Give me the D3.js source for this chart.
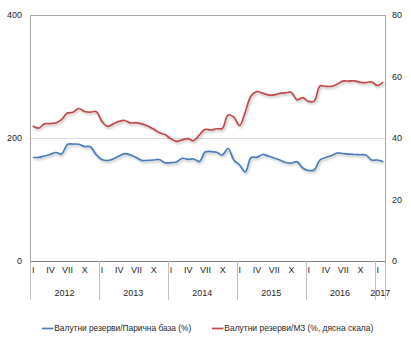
<!DOCTYPE html>
<html>
<head>
<meta charset="utf-8">
<script src="https://cdn.jsdelivr.net/npm/d3@7"></script>
<style>
  html, body { margin: 0; padding: 0; background: #fff; }
  svg { display: block; font-family: "Liberation Sans", Arial, sans-serif; }
</style>
</head>
<body>
<svg id="chart" width="411" height="341"></svg>
<script>
// Years shown on the axis and how many months of each are covered
const years = [2012, 2013, 2014, 2015, 2016, 2017];
const monthsPerYear = [12, 12, 12, 12, 12, 2];
const monthNames = ["I", "II", "III", "IV", "V", "VI", "VII", "VIII", "IX", "X", "XI", "XII"];

// Foreign reserves / monetary base (%), left scale
const reservesToBase = [
  168.3, 168.6, 170.7, 173.2, 176.4, 174.0, 189.4, 190.2, 189.8, 186.2, 185.9, 173.2,
  165.0, 163.4, 165.9, 170.7, 174.6, 172.4, 168.3, 163.4, 163.7, 164.2, 165.0, 159.8,
  159.8, 161.0, 167.0, 165.4, 165.9, 161.8, 177.2, 178.0, 176.9, 172.4, 182.9, 164.2,
  156.1, 144.7, 168.3, 168.6, 173.2, 170.7, 167.5, 164.2, 160.2, 159.3, 161.5, 151.2,
  147.2, 148.0, 164.2, 168.3, 171.5, 175.6, 174.8, 173.7, 173.2, 172.8, 172.4, 164.2,
  164.2, 161.5
];

// Foreign reserves / M3 (%), right scale
const reservesToM3 = [
  43.9, 43.2, 44.6, 44.7, 44.9, 46.0, 48.1, 48.4, 49.6, 48.6, 48.4, 48.6,
  45.5, 43.8, 44.6, 45.4, 45.7, 44.9, 45.0, 44.6, 43.9, 42.9, 41.8, 41.1,
  39.8, 38.9, 39.4, 39.8, 39.1, 41.0, 42.8, 42.6, 43.0, 43.1, 47.5, 46.8,
  44.0, 48.5, 53.7, 55.1, 54.6, 54.0, 54.0, 54.5, 54.7, 54.8, 52.4, 53.1,
  51.9, 52.0, 56.9, 56.8, 56.8, 57.5, 58.5, 58.5, 58.6, 58.1, 58.0, 58.2,
  57.1, 58.2
];

const leftTicks = [0, 200, 400];
const rightTicks = [0, 20, 40, 60, 80];
const legendLabels = ["Валутни резерви/Парична база (%)", "Валутни резерви/М3 (%, дясна скала)"];
const colors = ["#4a7ebb", "#be4b48"];

// Month list built from the year table
const months = [];
years.forEach((y, yi) => {
  for (let m = 0; m < monthsPerYear[yi]; m++) months.push({ year: y, m: m, key: y + "-" + m });
});

const svg = d3.select("#chart");
const W = 411;
const x0 = 30, x1 = 386;
const y0 = 261, yTop = 15;

const x = d3.scaleBand().domain(months.map(d => d.key)).range([x0, x1]).padding(0);
const yL = d3.scaleLinear().domain([0, 400]).range([y0, yTop]);
const yR = d3.scaleLinear().domain([0, 80]).range([y0, yTop]);
const cx = i => x(months[i].key) + x.bandwidth() / 2;

const defs = svg.append("defs");
const f = defs.append("filter").attr("id", "shadow").attr("x", "-5%").attr("y", "-20%").attr("width", "110%").attr("height", "160%");
f.append("feDropShadow").attr("dx", 1).attr("dy", 1.6).attr("stdDeviation", 0.9)
  .attr("flood-color", "#000").attr("flood-opacity", 0.28);

// gridline at 200
svg.append("g").selectAll("line").data(leftTicks.filter(t => t > 0 && t < 400)).join("line")
  .attr("x1", x0).attr("x2", x1)
  .attr("y1", d => Math.round(yL(d)) + 0.5).attr("y2", d => Math.round(yL(d)) + 0.5)
  .attr("stroke", "#d9d9d9").attr("stroke-width", 1);

// frame: left, top, right
svg.append("path").attr("d", `M${x0 + 0.5},${y0}V${yTop + 0.5}H${x1 - 0.5}V${y0}`)
  .attr("stroke", "#a6a6a6").attr("stroke-width", 1).attr("fill", "none");

// left axis labels
svg.append("g").selectAll("text").data(leftTicks).join("text")
  .attr("x", 22).attr("y", d => yL(d)).attr("dy", "0.35em")
  .attr("text-anchor", "end").attr("font-size", 9).attr("fill", "#262626")
  .text(d => d);

// right axis labels
svg.append("g").selectAll("text").data(rightTicks).join("text")
  .attr("x", 392).attr("y", d => yR(d)).attr("dy", "0.35em")
  .attr("text-anchor", "start").attr("font-size", 9).attr("fill", "#262626")
  .text(d => d);

// smoothed series lines
const lineL = d3.line().x((d, i) => cx(i)).y(d => yL(d)).curve(d3.curveCatmullRom.alpha(0.5));
const lineR = d3.line().x((d, i) => cx(i)).y(d => yR(d)).curve(d3.curveCatmullRom.alpha(0.5));

svg.append("path").datum(reservesToM3).attr("d", lineR)
  .attr("fill", "none").attr("stroke", colors[1]).attr("stroke-width", 1.7).attr("filter", "url(#shadow)");
svg.append("path").datum(reservesToBase).attr("d", lineL)
  .attr("fill", "none").attr("stroke", colors[0]).attr("stroke-width", 1.7).attr("filter", "url(#shadow)");

// category axis
const ax = svg.append("g");
ax.append("line").attr("x1", x0).attr("x2", x1).attr("y1", y0 + 0.5).attr("y2", y0 + 0.5)
  .attr("stroke", "#7f7f7f").attr("stroke-width", 1);

// year separators
let acc = 0;
const bounds = [0];
monthsPerYear.forEach(n => { acc += n; bounds.push(acc); });
ax.selectAll("line.sep").data(bounds).join("line").attr("class", "sep")
  .attr("x1", i => i < months.length ? Math.round(x(months[i].key)) + 0.5 : x1 - 0.5)
  .attr("x2", i => i < months.length ? Math.round(x(months[i].key)) + 0.5 : x1 - 0.5)
  .attr("y1", y0).attr("y2", 300)
  .attr("stroke", "#bfbfbf").attr("stroke-width", 1);

// month labels
ax.selectAll("text.mon").data(months.filter(d => d.m % 3 === 0)).join("text").attr("class", "mon")
  .attr("x", d => x(d.key) + x.bandwidth() / 2 + 0.3).attr("y", 273)
  .attr("text-anchor", "middle").attr("font-size", 9).attr("fill", "#262626")
  .text(d => monthNames[d.m]);

// year labels
ax.selectAll("text.yr").data(years).join("text").attr("class", "yr")
  .attr("x", (d, i) => {
    const a = x(months[bounds[i]].key);
    const b = bounds[i + 1] < months.length ? x(months[bounds[i + 1]].key) : x1;
    return (a + b) / 2;
  })
  .attr("y", 296).attr("text-anchor", "middle").attr("font-size", 9).attr("fill", "#262626")
  .text(d => d);

// legend
const lg = svg.append("g");
const lgX = [42, 212];
const lgW = [137, 149];
legendLabels.forEach((t, i) => {
  lg.append("line").attr("x1", lgX[i]).attr("x2", lgX[i] + 11.5).attr("y1", 328.5).attr("y2", 328.5)
    .attr("stroke", colors[i]).attr("stroke-width", 1.7);
  lg.append("text").attr("x", lgX[i] + 12.3).attr("y", 328.5).attr("dy", "0.35em")
    .attr("font-size", 8.4).attr("fill", "#262626")
    .attr("textLength", lgW[i]).attr("lengthAdjust", "spacingAndGlyphs")
    .text(t);
});
</script>
</body>
</html>
